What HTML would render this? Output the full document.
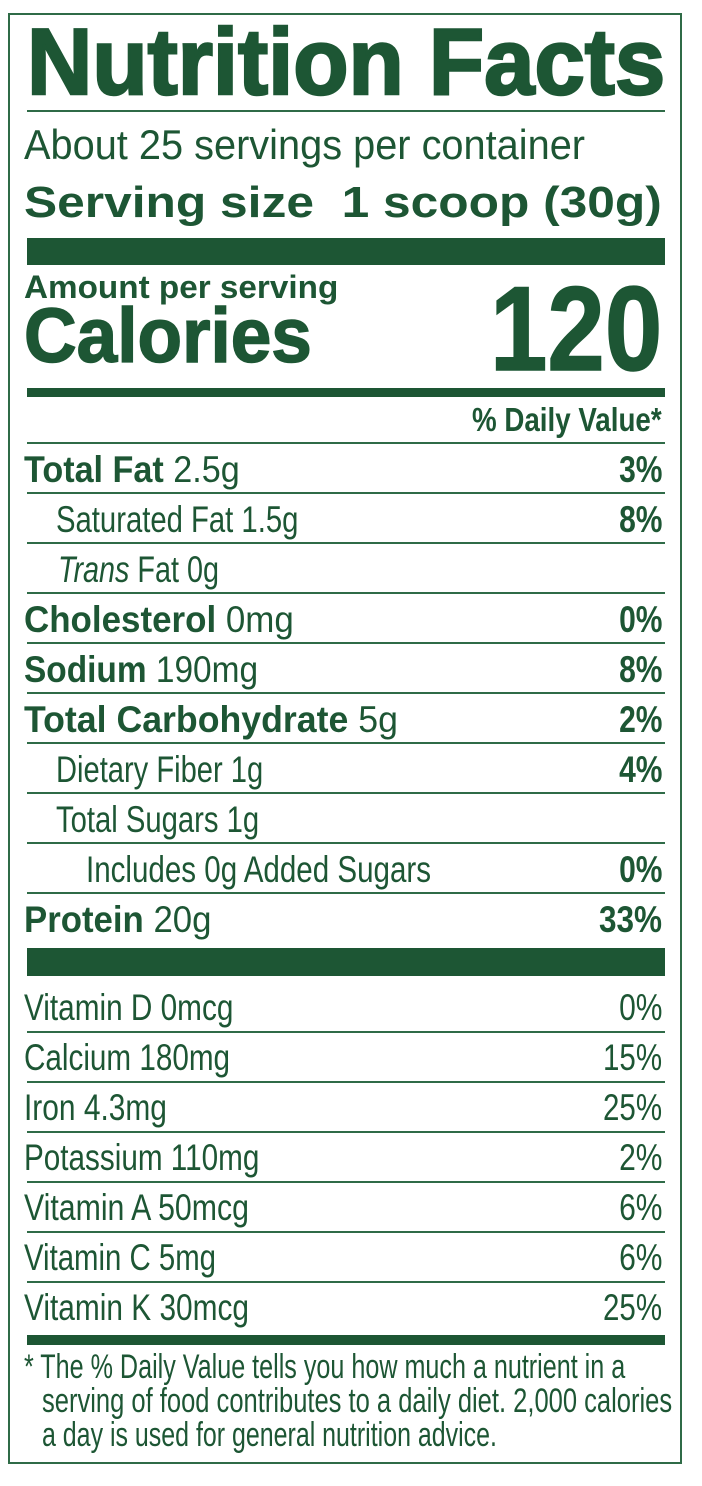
<!DOCTYPE html>
<html><head><meta charset="utf-8"><style>
html,body{margin:0;padding:0;background:#fff;}
body{width:702px;height:1486px;position:relative;overflow:hidden;font-family:"Liberation Sans",sans-serif;color:#1d5634;}
.box{position:absolute;left:8px;top:13px;width:674px;height:1451px;border:2px solid #2f6b47;box-sizing:border-box;}
.ln{position:absolute;left:27px;width:638px;height:1.5px;background:#2f6b47;}
.bar{position:absolute;left:27px;width:638px;background:#1d5634;}
.t{position:absolute;white-space:pre;line-height:1;transform-origin:left center;transform:scaleX(0.85);}
.r{transform-origin:right center;}
b{font-weight:bold;}
</style></head><body>
<div class="box"></div>

<div class="t" style="left:27px;top:15px;font-size:94px;font-weight:bold;-webkit-text-stroke:2.5px #1d5634;--w:638px">Nutrition Facts</div>
<div class="ln" style="top:110px"></div>
<div class="t" style="left:24px;top:124px;font-size:42px;--w:561px">About 25 servings per container</div>
<div class="t" style="left:24px;top:181px;font-size:44px;font-weight:bold;--w:638px">Serving size  1 scoop (30g)</div>
<div class="bar" style="top:238px;height:27px"></div>
<div class="t" style="left:24px;top:271px;font-size:32px;font-weight:bold;--w:314px">Amount per serving</div>
<div class="t" style="left:24px;top:298px;font-size:77px;font-weight:bold;-webkit-text-stroke:1.5px #1d5634;--w:288px">Calories</div>
<div class="t r" style="right:40px;top:269px;font-size:120px;font-weight:bold;-webkit-text-stroke:1.5px #1d5634;--w:172px">120</div>
<div class="bar" style="top:388px;height:9px"></div>
<div class="t r" style="right:40px;top:403px;font-size:33px;font-weight:bold;--w:190px">% Daily Value*</div>
<div class="ln" style="top:442px"></div>

<div id="rows"></div>

<div class="bar" style="top:948px;height:28px"></div>
<div class="bar" style="top:1335px;height:10px"></div>

<div class="t" style="left:24px;top:1350px;font-size:34px;--w:601px">* The % Daily Value tells you how much a nutrient in a</div>
<div class="t" style="left:42px;top:1384px;font-size:34px;--w:630px">serving of food contributes to a daily diet. 2,000 calories</div>
<div class="t" style="left:42px;top:1418px;font-size:34px;--w:455px">a day is used for general nutrition advice.</div>

<script>
var rows=[
[482,24,"<b>Total Fat</b> 2.5g",216,"3%",43,1,493],
[532,56,"Saturated Fat 1.5g",242,"8%",43,1,543],
[582,58,"<i>Trans</i> Fat 0g",161,"",0,0,593],
[632,24,"<b>Cholesterol</b> 0mg",270,"0%",43,1,643],
[682,24,"<b>Sodium</b> 190mg",234,"8%",43,1,693],
[732,24,"<b>Total Carbohydrate</b> 5g",374,"2%",43,1,743],
[782,56,"Dietary Fiber 1g",207,"4%",43,1,793],
[832,56,"Total Sugars 1g",203,"",0,0,843],
[882,86,"Includes 0g Added Sugars",345,"0%",43,1,893],
[932,24,"<b>Protein</b> 20g",187,"33%",63,1,0],
[1020,24,"Vitamin D 0mcg",209,"0%",43,0,1032],
[1070,24,"Calcium 180mg",206,"15%",59,0,1082],
[1120,24,"Iron 4.3mg",143,"25%",59,0,1132],
[1170,24,"Potassium 110mg",235,"2%",43,0,1182],
[1220,24,"Vitamin A 50mcg",225,"6%",43,0,1232],
[1270,24,"Vitamin C 5mg",192,"6%",43,0,1282],
[1320,24,"Vitamin K 30mcg",225,"25%",59,0,0]];
var h="",fs=37;
rows.forEach(function(r){
 var top=r[0]-0.8465*fs;
 h+='<div class="t" style="left:'+r[1]+'px;top:'+top+'px;font-size:'+fs+'px;--w:'+r[3]+'px">'+r[2]+'</div>';
 if(r[4])h+='<div class="t r" style="right:40px;top:'+top+'px;font-size:'+fs+'px;'+(r[6]?'font-weight:bold;':'')+'--w:'+r[5]+'px">'+r[4]+'</div>';
 if(r[7])h+='<div class="ln" style="top:'+(r[7]-1)+'px"></div>';
});
document.getElementById('rows').innerHTML=h;
document.querySelectorAll('.t').forEach(function(e){
 var w=parseFloat(getComputedStyle(e).getPropertyValue('--w'));
 if(w){var a=e.scrollWidth;if(a>0)e.style.transform='scaleX('+(w/a)+')';}
});
</script>
</body></html>
